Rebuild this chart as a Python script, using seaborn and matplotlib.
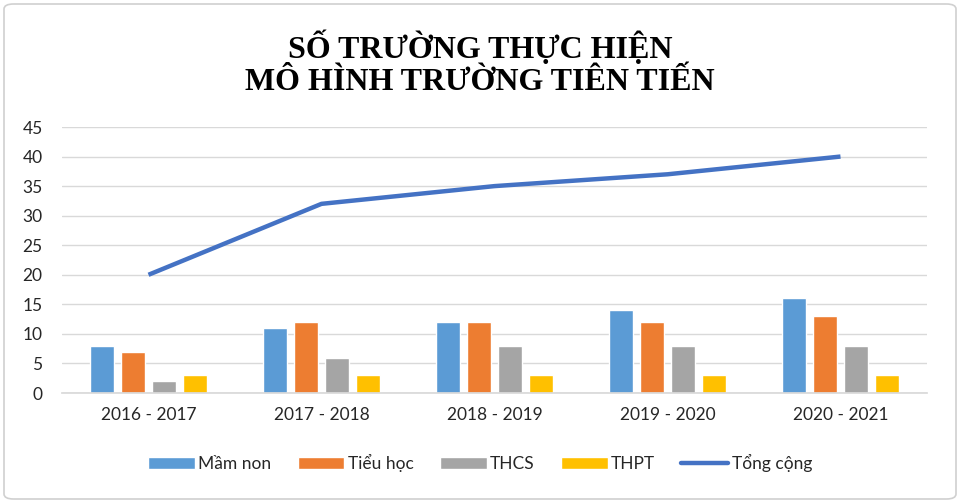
import matplotlib
matplotlib.use("Agg")
import matplotlib.pyplot as plt
import seaborn as sns
import pandas as pd
from matplotlib.patches import FancyBboxPatch, Patch
from matplotlib.lines import Line2D

years = ["2016 - 2017", "2017 - 2018", "2018 - 2019", "2019 - 2020", "2020 - 2021"]
mam_non = [8, 11, 12, 14, 16]
tieu_hoc = [7, 12, 12, 12, 13]
thcs = [2, 6, 8, 8, 8]
thpt = [3, 3, 3, 3, 3]
tong_cong = [20, 32, 35, 37, 40]
series_names = ["Mầm non", "Tiểu học", "THCS", "THPT"]
colors = ["#5B9BD5", "#ED7D31", "#A5A5A5", "#FFC000"]
line_color = "#4472C4"

sns.set_theme(style="white")
plt.rcParams["font.family"] = ["Lato", "DejaVu Sans"]

rows = []
for name, vals in zip(series_names, [mam_non, tieu_hoc, thcs, thpt]):
    for y, v in zip(years, vals):
        rows.append({"Năm": y, "Loại": name, "Số": v})
df = pd.DataFrame(rows)

fig = plt.figure(figsize=(9.6, 5.03), dpi=100)
ax = fig.add_axes([62/960, 1-393/503, 865/960, 266/503])

sns.barplot(data=df, x="Năm", y="Số", hue="Loại", palette=colors,
            width=0.72, gap=0.22, ax=ax, legend=False, saturation=1)
sns.lineplot(x=years, y=tong_cong, color=line_color, linewidth=3.2, ax=ax,
             sort=False, solid_capstyle="butt")

ax.set_ylim(0, 45)
ax.set_yticks(range(0, 46, 5))
ax.set_xlim(-0.5, 4.5)
ax.yaxis.grid(True, color="#D9D9D9", linewidth=1)
ax.set_axisbelow(True)
for s in ["top", "right", "left"]:
    ax.spines[s].set_visible(False)
ax.spines["bottom"].set_color("#D9D9D9")
ax.set_xlabel("")
ax.set_ylabel("")
ax.tick_params(axis="both", length=0, labelsize=12.5, colors="#262626")
ax.tick_params(axis="y", pad=14)
ax.tick_params(axis="x", pad=10)

handles = [Patch(facecolor=c, label=n) for c, n in zip(colors, series_names)]
handles.append(Line2D([0], [0], color=line_color, lw=3.2, label="Tổng cộng"))
fig.legend(handles=handles, loc="center", bbox_to_anchor=(0.5, 1-463/503),
           ncol=5, frameon=False, fontsize=12.5, handlelength=2.7,
           handleheight=0.7, handletextpad=0.2, columnspacing=1.5,
           labelcolor="#262626")

fig.text(0.5, 1-48/503, "SỐ TRƯỜNG THỰC HIỆN", ha="center", va="center",
         fontsize=23, fontweight="bold", family="Liberation Serif", color="black")
fig.text(0.5, 1-82/503, "MÔ HÌNH TRƯỜNG TIÊN TIẾN", ha="center", va="center",
         fontsize=23, fontweight="bold", family="Liberation Serif", color="black")

border = FancyBboxPatch((4/960, 4/503), 952/960, 495/503,
                        boxstyle="round,pad=0,rounding_size=0.01",
                        transform=fig.transFigure, fill=False,
                        edgecolor="#D0D0D0", linewidth=1.2)
fig.patches.append(border)

fig.savefig("out.png", dpi=100)
